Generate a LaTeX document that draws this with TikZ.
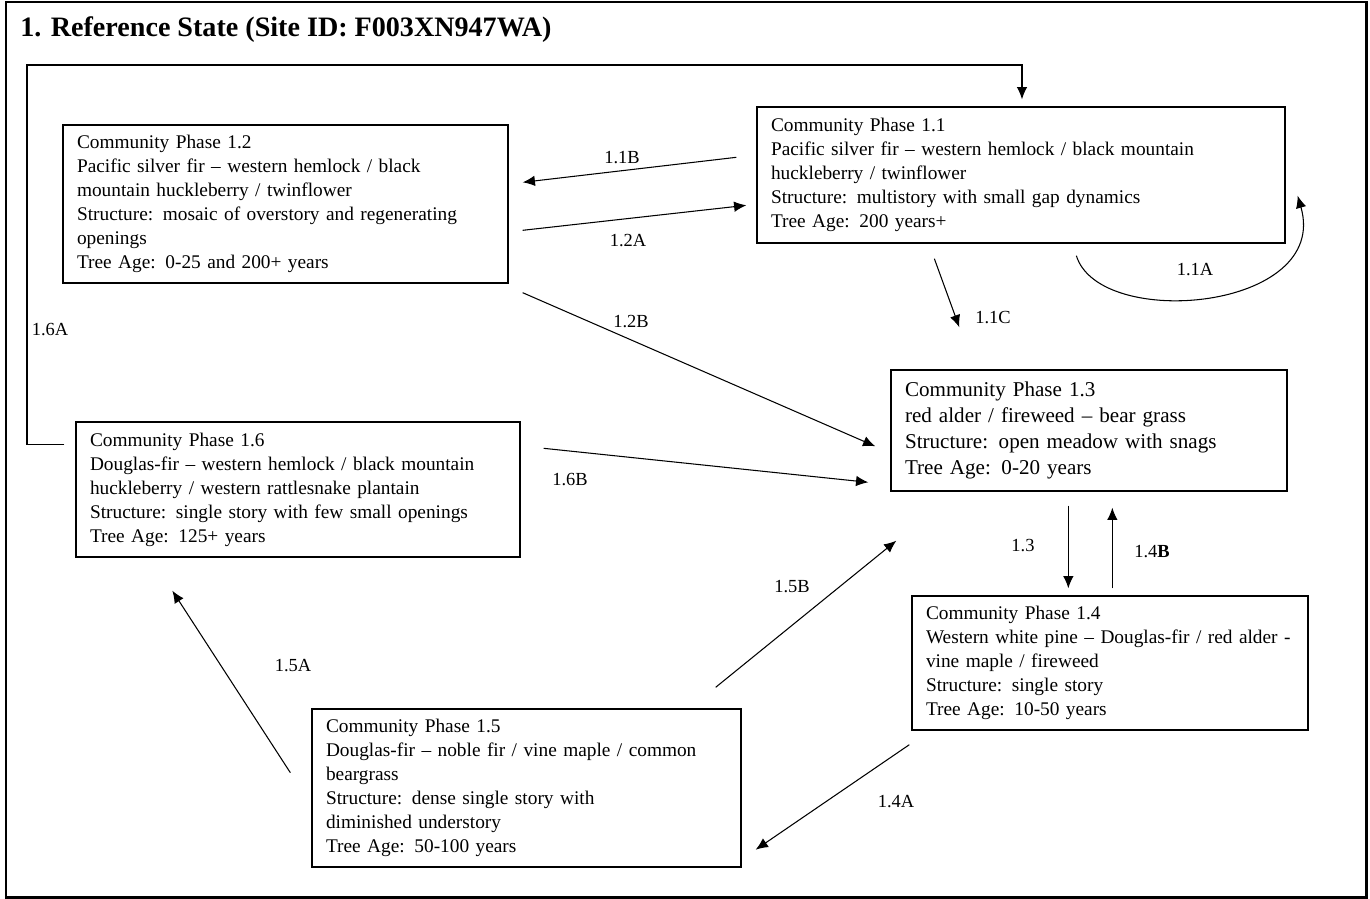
\documentclass[tikz,border=0pt]{standalone}
\usepackage{fontspec}
\setmainfont{Liberation Serif}
\usepackage{tikz}
\usetikzlibrary{arrows.meta, calc}
\tikzstyle{phase} = [rectangle, draw=black, line width=0.8pt, align=left, inner xsep=0.28cm, inner ysep=0pt, font=\fontsize{11}{13.66}\selectfont]
\tikzstyle{lbl} = [font=\fontsize{10.5}{12}\selectfont, inner sep=1pt]
\tikzstyle{trans} = [line width=0.6pt,-{Latex[length=7pt,width=6pt]}]

\begin{document}
\begin{tikzpicture}[x=0.02cm, y=-0.02cm]
      \useasboundingbox (0,0) rectangle (1370,899);
      % Frame and title
      \draw[line width=1.7pt] (6,2) rectangle (1366,897);
      \node[anchor=west, inner sep=0pt, font=\fontsize{16}{19}\selectfont\bfseries] (title) at (20,30) {1. Reference State (Site ID: F003XN947WA)};

      % Community phases
      \node[phase, text width=8.34cm, minimum height=3.16cm] (p12) at (285.5,204) {Community Phase 1.2\\Pacific silver fir -- western hemlock / black\\mountain huckleberry / twinflower\\Structure: mosaic of overstory and regenerating\\openings\\Tree Age: 0-25 and 200+ years};
      \node[phase, text width=10.0cm, minimum height=2.72cm] (p11) at (1021,175) {Community Phase 1.1\\Pacific silver fir -- western hemlock / black mountain\\huckleberry / twinflower\\Structure: multistory with small gap dynamics\\Tree Age: 200 years+};
      \node[phase, text width=7.36cm, minimum height=2.42cm, font=\fontsize{12}{14.8}\selectfont] (p13) at (1089,430.5) {Community Phase 1.3\\red alder / fireweed -- bear grass\\Structure: open meadow with snags\\Tree Age: 0-20 years};
      \node[phase, text width=8.32cm, minimum height=2.7cm] (p16) at (298,489.5) {Community Phase 1.6\\Douglas-fir -- western hemlock / black mountain\\huckleberry / western rattlesnake plantain\\Structure: single story with few small openings\\Tree Age: 125+ years};
      \node[phase, text width=7.36cm, minimum height=2.68cm] (p14) at (1110,663) {Community Phase 1.4\\Western white pine -- Douglas-fir / red alder -\\vine maple / fireweed\\Structure: single story\\Tree Age: 10-50 years};
      \node[phase, text width=8.02cm, minimum height=3.16cm] (p15) at (526.5,788) {Community Phase 1.5\\Douglas-fir -- noble fir / vine maple / common\\beargrass\\Structure: dense single story with\\diminished understory\\Tree Age: 50-100 years};

      % Transitions
      \draw[trans] ($(p11.north west)+(-20,51)$) -- ($(p12.north east)+(14,58)$);
      \draw[trans] ($(p12.north east)+(14,106)$) -- ($(p11.north west)+(-10,99)$);
      \draw[trans] ($(p12.south east)+(14,9)$) -- ($(p13.north west)+(-15,77)$);
      \draw[trans] ($(p11.south west)+(178,15)$) -- ($(p13.north west)+(69,-42)$);
      \draw[trans] ($(p11.south west)+(320,12)$) .. controls ($(p11.south west)+(343,87)$) and ($(p11.south east)+(45,67)$) .. ($(p11.south east)+(12,-48)$);
      \draw[trans] ($(p16.north east)+(23,27)$) -- ($(p13.north west)+(-22,113)$);
      \draw[trans] ($(p13.south west)+(178,14)$) -- ($(p14.north west)+(157,-7)$);
      \draw[trans] ($(p14.north west)+(201,-7)$) -- ($(p13.south west)+(222,16)$);
      \draw[trans] ($(p15.north east)+(-26,-21)$) -- ($(p13.south west)+(6,49)$);
      \draw[trans] ($(p15.south west)+(-21,-95)$) -- ($(p16.south west)+(97,33)$);
      \draw[trans] ($(p14.south west)+(-2,14)$) -- ($(p15.south east)+(14,-18)$);
      \coordinate (loop) at (27,65);
      \draw[trans] ($(p16.north west)+(-11,23)$) -| (loop) -| ($(p11.north)+(1,-7)$);

      % Transition labels
      \node[lbl] (t11b) at (622,158) {1.1B};
      \node[lbl] (t12a) at (628,241) {1.2A};
      \node[lbl] (t12b) at (631,322) {1.2B};
      \node[lbl] (t11c) at (993,318) {1.1C};
      \node[lbl] (t11a) at (1195,270) {1.1A};
      \node[lbl] (t16a) at (50,330) {1.6A};
      \node[lbl] (t16b) at (570,480) {1.6B};
      \node[lbl] (t13) at (1023,546) {1.3};
      \node[lbl] (t14b) at (1152,552) {1.4\textbf{B}};
      \node[lbl] (t15b) at (792,587) {1.5B};
      \node[lbl] (t15a) at (293,666) {1.5A};
      \node[lbl] (t14a) at (896,802) {1.4A};
    \end{tikzpicture}
\end{document}
